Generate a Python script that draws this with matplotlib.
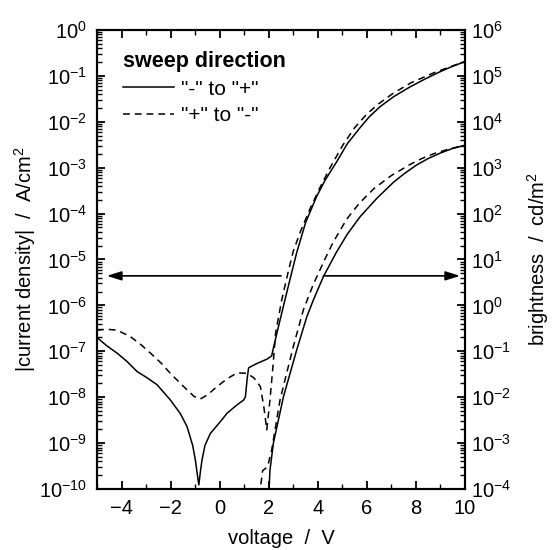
import matplotlib.pyplot as plt
import numpy as np
from matplotlib.ticker import LogLocator, MultipleLocator, NullFormatter


# |current density|, read as log10(A/cm^2)
j_fwd_v = [-5.0, -4.6, -4.18, -3.78, -3.37, -2.95, -2.55, -2.01, -1.6, -1.33,
           -1.1, -0.99, -0.92, -0.85, -0.78, -0.72, -0.6, -0.38, 0.0, 0.3,
           0.7, 0.98, 1.05, 1.12, 1.18, 1.5, 1.93, 2.12, 2.18, 2.33,
           2.66, 2.9, 3.14, 3.5, 3.95, 4.3, 4.77, 5.2, 5.72, 6.1,
           6.54, 7.1, 7.76, 8.4, 8.98, 9.5, 10.0]
j_fwd_log = [-6.70, -6.88, -7.04, -7.22, -7.44, -7.58, -7.73, -8.06, -8.36, -8.64,
             -9.05, -9.37, -9.65, -9.91, -9.6, -9.37, -9.05, -8.79, -8.55, -8.35,
             -8.17, -8.06, -7.99, -7.6, -7.36, -7.27, -7.17, -7.10, -6.95, -6.61,
             -5.88, -5.36, -4.85, -4.2, -3.63, -3.27, -2.87, -2.48, -2.13, -1.89,
             -1.67, -1.45, -1.24, -1.06, -0.91, -0.79, -0.69]

j_rev_v = [-5.0, -4.6, -4.18, -3.64, -3.2, -2.82, -2.4, -2.01, -1.6, -1.33,
           -1.05, -0.79, -0.5, -0.11, 0.3, 0.71, 1.11, 1.4, 1.66, 1.80,
           1.92, 2.05, 2.17, 2.28, 2.53, 2.78, 3.0, 3.3, 3.68, 4.1,
           4.5, 5.03, 5.5, 6.0, 6.5, 7.07, 7.8, 8.7, 9.4, 10.0]
j_rev_log = [-6.54, -6.52, -6.54, -6.68, -6.86, -7.04, -7.25, -7.48, -7.7, -7.84,
             -7.98, -8.04, -7.95, -7.77, -7.6, -7.47, -7.48, -7.58, -7.77, -8.21,
             -8.71, -8.06, -7.34, -6.6, -5.88, -5.3, -4.82, -4.38, -3.9, -3.42,
             -3.0, -2.5, -2.13, -1.83, -1.6, -1.38, -1.15, -0.94, -0.8, -0.69]

# brightness, read as log10(cd/m^2)
l_fwd_v = [2.01, 2.05, 2.19, 2.6, 3.14, 3.55, 3.82, 4.23, 4.75, 5.2,
           5.72, 6.4, 7.08, 7.5, 8.0, 8.5, 9.0, 9.5, 10.0]
l_fwd_log = [-4.05, -3.59, -3.0, -1.99, -0.97, -0.25, 0.12, 0.63, 1.15, 1.55,
             1.93, 2.33, 2.68, 2.86, 3.05, 3.2, 3.32, 3.42, 3.49]

l_rev_v = [1.68, 1.75, 1.95, 2.12, 2.46, 3.0, 3.41, 3.81, 4.3, 4.63,
           5.18, 5.7, 6.3, 7.0, 7.76, 8.2, 8.7, 9.3, 10.0]
l_rev_log = [-3.9, -3.6, -3.52, -3.15, -2.06, -0.9, -0.1, 0.45, 1.02, 1.38,
             1.88, 2.23, 2.55, 2.83, 3.07, 3.19, 3.3, 3.4, 3.49]

arrow_level = 4.4e-6  # A/cm^2
arrow_j = (2.5, -4.6)
arrow_l = (4.23, 9.8)

x_ticks = [-4, -2, 0, 2, 4, 6, 8, 10]

plt.rcParams["font.family"] = ["Liberation Sans", "DejaVu Sans"]
plt.rcParams["mathtext.fontset"] = "custom"
plt.rcParams["mathtext.rm"] = "Liberation Sans"

fig = plt.figure(figsize=(5.53, 5.50), dpi=100)
ax = fig.add_axes([0.1754, 0.1109, 0.6655, 0.8346])
ax2 = ax.twinx()

dash = (0, (4.5, 3.2))
lw = 1.1

ax.plot(j_fwd_v, 10 ** np.array(j_fwd_log), color="black", lw=lw, label='"-" to "+"')
ax.plot(j_rev_v, 10 ** np.array(j_rev_log), color="black", lw=lw, ls=dash, label='"+" to "-"')
ax2.plot(l_fwd_v, 10 ** np.array(l_fwd_log), color="black", lw=lw)
ax2.plot(l_rev_v, 10 ** np.array(l_rev_log), color="black", lw=lw, ls=dash)

ax.set_xlim(-5, 10)
ax.set_yscale("log")
ax.set_ylim(1e-10, 1)
ax2.set_yscale("log")
ax2.set_ylim(1e-4, 1e6)

for a in (ax, ax2):
    a.yaxis.set_major_locator(LogLocator(base=10, numticks=20))
    a.yaxis.set_minor_locator(LogLocator(base=10, subs=np.arange(2, 10), numticks=20))
    a.yaxis.set_minor_formatter(NullFormatter())
    for s in a.spines.values():
        s.set_linewidth(1.5)

ax.set_xticks(x_ticks)
ax.xaxis.set_minor_locator(MultipleLocator(1))
ax.tick_params(axis="both", which="major", direction="in", length=6, width=1.3,
               labelsize=14.5, top=True, pad=7)
ax.tick_params(axis="both", which="minor", direction="in", length=3.5, width=1.0, top=True)
ax2.tick_params(axis="y", which="major", direction="in", length=6, width=1.3,
                labelsize=14.5, pad=4)
ax2.tick_params(axis="y", which="minor", direction="in", length=3.5, width=1.0)

ax.set_xlabel("voltage  /  V", fontsize=14.5, labelpad=8)
ax.set_ylabel("|current density|  /  A/cm$^2$", fontsize=14.5, labelpad=1)
ax2.set_ylabel("brightness  /  cd/m$^2$", fontsize=14.5, labelpad=10)

head = dict(arrowstyle="-|>,head_length=0.8,head_width=0.25", color="black",
            lw=1.2, mutation_scale=11, shrinkA=0, shrinkB=0)
ax.annotate("", xy=(arrow_j[1], arrow_level), xytext=(arrow_j[0], arrow_level),
            arrowprops=head)
ax.annotate("", xy=(arrow_l[1], arrow_level), xytext=(arrow_l[0], arrow_level),
            arrowprops=head)

ax.legend(loc="upper left", bbox_to_anchor=(0.07, 0.955), frameon=False,
          title="sweep direction", title_fontproperties={"weight": "bold", "size": 15.5},
          alignment="left", fontsize=15, handlelength=2.45, handletextpad=0.35,
          labelspacing=0.38, borderpad=0, borderaxespad=0)

fig.savefig("out.png", dpi=100)
